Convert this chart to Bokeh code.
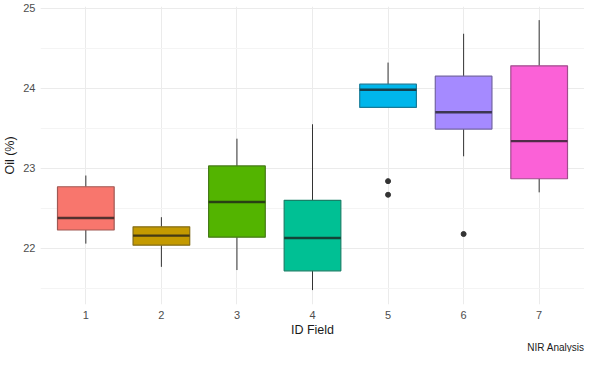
from bokeh.plotting import figure
from bokeh.models import FactorRange, Range1d, SingleIntervalTicker, Title, ColumnDataSource
from bokeh.embed import file_html
from bokeh.resources import INLINE

# ---- data ----
fields = ["1", "2", "3", "4", "5", "6", "7"]
whisker_low = [22.06, 21.77, 21.73, 21.48, 23.76, 23.15, 22.70]
q1 = [22.23, 22.04, 22.14, 21.72, 23.76, 23.49, 22.87]
median = [22.38, 22.16, 22.58, 22.13, 23.98, 23.70, 23.34]
q3 = [22.77, 22.27, 23.03, 22.60, 24.05, 24.15, 24.28]
whisker_high = [22.91, 22.39, 23.37, 23.55, 24.32, 24.68, 24.85]
outlier_field = ["5", "5", "6"]
outlier_value = [22.84, 22.67, 22.18]
fill_colors = ["#F8766D", "#C49A00", "#53B400", "#00C094", "#00B6EB", "#A58AFF", "#FB61D7"]
caption = "NIR Analysis"

Y_MIN, Y_MAX = 21.30, 25.02


def blend(c, d, t):
    a = [int(c[i:i + 2], 16) for i in (1, 3, 5)]
    b = [int(d[i:i + 2], 16) for i in (1, 3, 5)]
    m = [round(a[k] * (1 - t) + b[k] * t) for k in range(3)]
    return "#%02x%02x%02x" % tuple(m)


line_colors = [blend(c, "#333333", 0.45) for c in fill_colors]
median_colors = [blend(c, "#1a1a1a", 0.75) for c in fill_colors]

FONT = "Liberation Sans"

p = figure(
    width=584, height=352,
    x_range=FactorRange(factors=fields, range_padding=0.1, range_padding_units="absolute"),
    y_range=Range1d(Y_MIN, Y_MAX),
    output_backend="svg", toolbar_location=None,
    min_border_top=6, min_border_right=0, min_border_left=0, min_border_bottom=0,
)
p.outline_line_color = None
p.background_fill_color = "white"
p.border_fill_color = "white"

src = ColumnDataSource(dict(
    x=fields, lo=whisker_low, q1=q1, med=median, q3=q3, hi=whisker_high,
    fill=fill_colors, line=line_colors, medc=median_colors,
))

# whiskers
p.segment(x0="x", y0="q3", x1="x", y1="hi", source=src, line_color="#333333", line_width=1)
p.segment(x0="x", y0="lo", x1="x", y1="q1", source=src, line_color="#333333", line_width=1)
# boxes
p.vbar(x="x", top="q3", bottom="q1", width=0.75, source=src,
       fill_color="fill", line_color="line", line_width=1.2)
# medians
p.vbar(x="x", top="med", bottom="med", width=0.75, source=src,
       fill_color=None, line_color="medc", line_width=2.4)
# outliers
p.scatter(x=outlier_field, y=outlier_value, size=5, color="#333333")

# axes
p.yaxis.ticker = SingleIntervalTicker(interval=1, num_minor_ticks=2)
for ax in (p.xaxis[0], p.yaxis[0]):
    ax.axis_line_color = None
    ax.major_tick_line_color = None
    ax.minor_tick_line_color = None
    ax.major_tick_out = 0
    ax.major_tick_in = 0
    ax.minor_tick_out = 0
    ax.minor_tick_in = 0
    ax.major_label_text_font = FONT
    ax.major_label_text_font_size = "11px"
    ax.major_label_text_color = "#4d4d4d"
    ax.axis_label_text_font = FONT
    ax.axis_label_text_font_size = "12.5px"
    ax.axis_label_text_font_style = "normal"
    ax.axis_label_text_color = "#1a1a1a"

p.xaxis.axis_label = "ID Field"
p.yaxis.axis_label = "Oil (%)"
p.xaxis.major_label_standoff = 6
p.xaxis.axis_label_standoff = 1
p.yaxis.major_label_standoff = 5
p.yaxis.axis_label_standoff = 3

# grid
p.xgrid.grid_line_color = "#ebebeb"
p.ygrid.grid_line_color = "#ebebeb"
p.ygrid.minor_grid_line_color = "#f4f4f4"

# caption below the x axis, right-aligned
p.add_layout(Title(text=caption, align="right", text_font=FONT,
                   text_font_size="10px", text_font_style="normal",
                   text_color="#1a1a1a", standoff=0, offset=0), "below")

open("out.html", "w").write(file_html(p, INLINE))
